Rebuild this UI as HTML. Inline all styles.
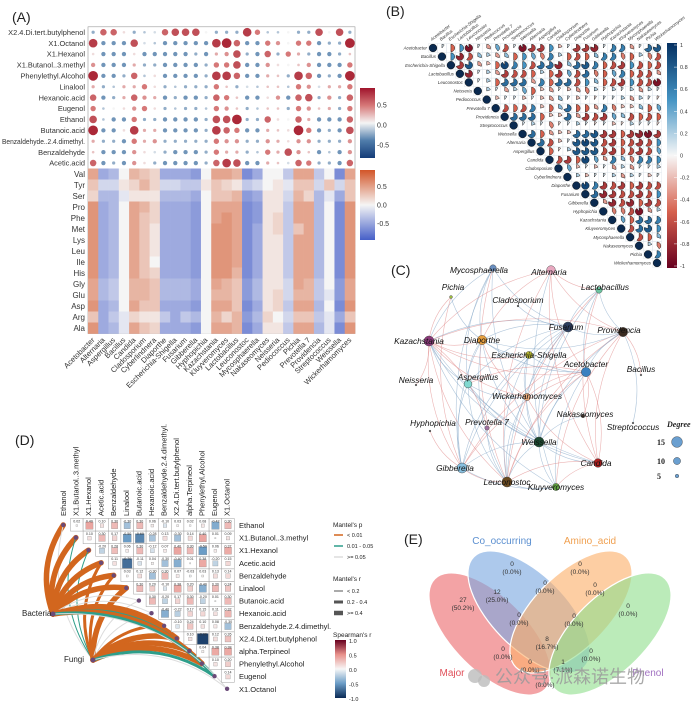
<!DOCTYPE html>
<html><head><meta charset="utf-8"><style>
html,body{margin:0;padding:0;background:#fff;}
svg{display:block;font-family:"Liberation Sans","Noto Sans CJK SC",sans-serif;}
</style></head><body>
<svg id="fig" width="695" height="707" viewBox="0 0 695 707" xmlns="http://www.w3.org/2000/svg">
<defs>
<linearGradient id="gA1" x1="0" y1="0" x2="0" y2="1"><stop offset="0" stop-color="#a0142c"/><stop offset="0.25" stop-color="#d67878"/><stop offset="0.5" stop-color="#f5f5f5"/><stop offset="0.75" stop-color="#507dab"/><stop offset="1" stop-color="#143c78"/></linearGradient>
<linearGradient id="gA2" x1="0" y1="0" x2="0" y2="1"><stop offset="0" stop-color="#d25528"/><stop offset="0.5" stop-color="#f5f5f5"/><stop offset="1" stop-color="#465fc8"/></linearGradient>
<linearGradient id="gB" x1="0" y1="0" x2="0" y2="1"><stop offset="0" stop-color="#053061"/><stop offset="0.25" stop-color="#4393c3"/><stop offset="0.5" stop-color="#f7f7f7"/><stop offset="0.75" stop-color="#d6604d"/><stop offset="1" stop-color="#67001f"/></linearGradient>
<linearGradient id="gD" x1="0" y1="0" x2="0" y2="1"><stop offset="0" stop-color="#67001f"/><stop offset="0.25" stop-color="#e8908a"/><stop offset="0.5" stop-color="#f7f7f7"/><stop offset="0.75" stop-color="#6a9cc6"/><stop offset="1" stop-color="#0a2a55"/></linearGradient>
</defs>
<g id="A"></g>
<g id="B"></g>
<g id="C"></g>
<g id="D"></g>
<g id="E"></g>
</svg>
<script>
// ---------- Panel A data ----------
const aCols = ["Acetobacter","Alternaria","Aspergillus","Bacillus","Candida","Cladosporium","Cyberlindnera","Diaporthe","Escherichia-Shigella","Fusarium","Gibberella","Hyphopichia","Kazachstania","Kluyveromyces","Lactobacillus","Leuconostoc","Mycosphaerella","Nakaseomyces","Neisseria","Pediococcus","Pichia","Prevotella 7","Providencia","Streptococcus","Weissella","Wickerhamomyces"];
const aDotRows = ["X2.4.Di.tert.butylphenol","X1.Octanol","X1.Hexanol","X1.Butanol..3.methyl","Phenylethyl.Alcohol","Linalool","Hexanoic.acid","Eugenol","Ethanol","Butanoic.acid","Benzaldehyde..2.4.dimethyl.","Benzaldehyde","Acetic.acid"];
const aDotVals = [
[-0.3,0.6,0.6,0.1,-0.3,-0.2,-0.1,0.6,0.7,0.7,0.7,0,-0.3,-0.3,-0.3,0.8,0.5,-0.2,-0.2,0,-0.3,-0.3,0.7,0,0.7,-0.3],
[0.8,-0.4,-0.4,-0.4,0.7,-0.1,-0.2,-0.4,-0.4,-0.4,-0.4,-0.4,0.8,0.9,0.6,-0.4,-0.4,0.5,0.4,0,0.5,0.5,-0.4,-0.3,-0.3,0.9],
[0.1,-0.4,-0.4,-0.4,0.1,-0.4,-0.4,-0.4,-0.4,-0.4,-0.3,-0.4,0.3,0.4,0.7,-0.3,-0.4,0.6,-0.3,0.5,0.3,-0.3,-0.4,-0.4,-0.3,0.2],
[0.4,-0.4,-0.4,-0.4,0.3,-0.3,-0.3,-0.4,-0.4,-0.4,-0.4,-0.3,0.5,0.5,0.7,-0.4,-0.4,0.4,0.1,0,0.2,0.4,-0.4,-0.4,-0.4,0.5],
[0.9,-0.4,-0.4,-0.3,0.6,-0.2,0.1,-0.4,-0.4,-0.4,-0.4,-0.3,0.8,0.8,0.6,-0.4,-0.4,0.3,0.2,-0.3,0.8,0.6,-0.4,-0.3,-0.4,0.9],
[0.3,-0.3,-0.2,0.3,0.3,0.5,0.1,-0.3,-0.2,-0.3,-0.3,-0.3,0.5,0.2,-0.3,-0.1,-0.2,0.2,0.2,-0.2,0.5,0.4,-0.1,0.3,0.3,0.5],
[0.6,-0.4,-0.3,0.3,0.6,0.4,0.3,-0.4,-0.3,-0.4,-0.4,-0.3,0.6,0.5,0.2,-0.4,-0.4,0.1,0.4,-0.4,0.6,0.7,-0.3,0.4,-0.3,0.6],
[0.5,-0.2,0,0.1,0.4,0.5,0.1,-0.3,-0.2,-0.3,-0.3,-0.2,0.5,0.4,0.2,-0.3,-0.2,0.2,0.2,-0.3,0.5,0.4,0.2,0.3,-0.3,0.5],
[0.7,-0.2,-0.4,-0.4,0.5,-0.3,-0.3,-0.4,-0.4,-0.4,-0.4,-0.3,0.7,0.7,0.9,-0.3,-0.3,0.6,0.1,0,0.6,0.3,-0.4,-0.4,-0.4,0.6],
[0.9,-0.4,-0.4,0.1,0.8,0.3,0.3,-0.4,-0.4,-0.4,-0.4,-0.3,0.8,0.6,0.5,-0.4,-0.4,0.3,0.2,0.1,0.9,0.5,-0.4,-0.3,-0.4,0.7],
[0.3,-0.3,-0.3,-0.4,0.5,0.3,0.4,-0.3,-0.3,-0.3,-0.3,-0.3,0.5,0.4,0.4,-0.3,-0.3,0.4,0.3,0.1,0.4,0.4,-0.3,-0.3,-0.3,0.4],
[0.2,-0.4,-0.4,-0.4,0.4,0.1,-0.1,-0.3,-0.4,-0.4,-0.4,-0.3,0.5,0.3,0.3,-0.3,-0.2,0.5,0.3,0.7,0.4,0.2,-0.4,-0.2,-0.4,0.4],
[0.6,-0.4,-0.3,-0.4,0.4,0.1,-0.3,-0.4,-0.4,-0.4,-0.4,-0.3,0.6,0.8,0.7,-0.4,-0.4,0.3,0.2,-0.1,0.6,0.5,-0.3,-0.3,-0.4,0.6]];
const aHeatRows = ["Val","Tyr","Ser","Pro","Phe","Met","Lys","Leu","Ile","His","Gly","Glu","Asp","Arg","Ala"];
const aHeatVals = [
[5,-5,-4,0,4,3,2,-5,-5,-5,-6,0,5,5,4,-7,-5,0,0,-3,5,5,-3,0,-7,5],
[3,-2,-2,1,2,4,2,-2,-2,-3,-3,1,3,2,1,-3,-2,0,1,-1,3,3,-2,3,-2,3],
[2,-4,-4,-1,1,1,1,-4,-4,-4,-5,0,3,3,4,-6,-5,1,1,-2,4,2,-4,-1,-5,3],
[6,-5,-4,0,5,4,2,-5,-5,-5,-6,0,5,5,5,-7,-6,1,1,-3,5,5,-4,0,-7,6],
[6,-5,-4,0,5,3,2,-5,-5,-5,-6,0,5,6,5,-7,-6,1,2,-3,5,5,-4,0,-7,6],
[6,-5,-4,0,5,3,1,-5,-5,-5,-6,0,6,6,5,-7,-5,1,2,-3,3,5,-4,0,-7,6],
[6,-5,-4,0,5,3,1,-5,-5,-5,-6,0,6,6,5,-7,-5,1,1,-3,5,5,-4,0,-7,6],
[6,-5,-4,0,5,3,1,-5,-5,-5,-6,0,6,6,5,-7,-5,1,1,-3,5,5,-4,0,-7,6],
[6,-5,-4,0,5,3,0,-5,-5,-5,-6,0,6,6,5,-7,-5,1,1,-3,5,5,-4,0,-7,6],
[6,-5,-4,0,5,3,2,-5,-5,-5,-6,0,6,6,4,-7,-5,1,1,-3,5,5,-4,0,-7,6],
[5,-4,-3,0,4,4,3,-4,-4,-4,-5,0,5,4,3,-6,-4,1,1,-2,5,4,-3,0,-6,5],
[5,-4,-3,0,4,4,3,-4,-4,-4,-5,0,4,4,3,-6,-4,1,2,-2,4,4,-3,-1,-6,5],
[6,-5,-4,0,5,3,3,-5,-5,-5,-6,0,5,5,3,-7,-5,1,2,-3,5,5,-4,0,-7,6],
[3,-5,-3,-1,2,1,1,-3,-5,-3,-4,0,4,2,4,-6,-4,2,0,-2,3,3,-3,-1,-5,3],
[6,-5,-4,-1,5,3,2,-5,-5,-5,-6,0,5,5,4,-7,-5,1,1,-3,5,5,-4,-1,-7,6]];
const aBarTicks = ["0.5","0.0","-0.5"];
const aBarTickVals = [0.5,0,-0.5];

// ---------- Panel B data ----------
const bTaxa = ["Acetobacter","Bacillus","Escherichia-Shigella","Lactobacillus","Leuconostoc","Neisseria","Pediococcus","Prevotella 7","Providencia","Streptococcus","Weissella","Alternaria","Aspergillus","Candida","Cladosporium","Cyberlindnera","Diaporthe","Fusarium","Gibberella","Hyphopichia","Kazachstania","Kluyveromyces","Mycosphaerella","Nakaseomyces","Pichia","Wickerhamomyces"];
const bVals = [
[1,-5,5,-9,1,-3,4,-6,1,-9,-7,-7,5,-2,1,-7,-7,-8,1,6,6,-3,1,7,8],
[5,-8,-6,3,2,-3,3,-5,5,4,-4,6,2,-5,-6,-5,3,6,6,-4,-5,2,-4,-6],
[-7,8,-3,-2,-5,9,6,5,-6,7,7,-8,3,7,8,6,-5,-6,-7,5,-6,-5,-6],
[-8,1,2,-3,-7,-6,-6,-5,2,-5,-7,4,-6,7,-4,-5,4,6,-5,-6,-6,-3],
[1,2,-5,7,7,7,-3,6,-5,7,7,-6,5,3,-5,-6,-7,5,-6,-6,-9],
[2,1,-3,2,4,-5,-2,-3,1,-2,-3,-4,2,-1,2,1,2,-3,2,1],
[-2,1,1,-2,1,-2,-3,3,1,-2,1,-1,1,1,2,-3,2,1,-1],
[-6,-5,-6,6,-2,-5,3,7,-5,-5,-3,6,-4,-2,-2,3,-5,4],
[7,7,7,-5,-2,-2,7,-3,-7,-6,-7,4,3,-6,-5,-6,-5],
[1,2,1,-4,-1,1,2,1,-1,1,-2,-1,2,1,1,-1],
[7,-5,-3,-2,-2,7,7,8,-7,-7,-5,-7,-8,-9,-7],
[7,-6,-2,1,8,9,8,-6,-7,-5,-6,-7,-6,5],
[-5,-1,2,8,8,8,-6,-7,-5,-6,-7,-6,4],
[-6,-7,-5,9,4,-3,6,3,-4,6,6,5],
[4,-2,1,-2,1,-3,2,-3,1,1,2],
[2,-2,1,1,2,-3,2,1,-2,1],
[9,6,-7,-6,-7,-5,-7,-6,-6],
[7,-8,-7,-6,-6,-7,-6,5],
[-3,-8,-6,-8,-5,-7,-6],
[-4,-4,-6,-9,-3,2],
[4,-5,7,7,6],
[-6,7,8,5],
[-6,-5,3],
[2,-4],
[6],
[]];
const bTicks = ["1","0.8","0.6","0.4","0.2","0","-0.2","-0.4","-0.6","-0.8","-1"];

// ---------- Panel C data ----------
const cNodes = ["Mycosphaerella","Alternaria","Lactobacillus","Pichia","Cladosporium","Fusarium","Providencia","Kazachstania","Diaporthe","Escherichia-Shigella","Acetobacter","Bacillus","Neisseria","Aspergillus","Wickerhamomyces","Nakaseomyces","Hyphopichia","Prevotella 7","Streptococcus","Weissella","Candida","Gibberella","Leuconostoc","Kluyveromyces"];
const cDegree = [9,12,9,4,2,14,13,14,13,10,13,1,1,11,10,5,1,6,1,14,12,14,14,10];
const cEdges = [[0,5,"b"],[0,8,"b"],[0,13,"b"],[0,19,"b"],[0,21,"b"],[0,22,"r"],[0,7,"b"],[1,7,"r"],[1,8,"r"],[1,10,"r"],[1,20,"r"],[1,22,"r"],[1,2,"r"],[1,23,"b"],[1,6,"r"],[2,5,"b"],[2,10,"b"],[2,20,"r"],[2,22,"r"],[2,19,"b"],[3,7,"r"],[3,8,"b"],[3,21,"r"],[5,7,"b"],[5,8,"b"],[5,9,"b"],[5,13,"b"],[5,19,"b"],[5,21,"b"],[5,22,"b"],[5,6,"b"],[5,14,"b"],[6,10,"b"],[6,20,"r"],[6,22,"r"],[6,23,"r"],[6,21,"r"],[6,7,"r"],[6,19,"b"],[7,8,"r"],[7,9,"r"],[7,10,"r"],[7,13,"b"],[7,14,"r"],[7,19,"b"],[7,21,"r"],[7,22,"r"],[7,23,"b"],[7,20,"b"],[8,9,"b"],[8,10,"b"],[8,13,"b"],[8,14,"r"],[8,19,"b"],[8,22,"b"],[8,21,"b"],[8,6,"b"],[9,10,"b"],[9,14,"b"],[9,19,"b"],[9,22,"b"],[9,21,"b"],[10,13,"r"],[10,14,"r"],[10,19,"b"],[10,22,"r"],[10,21,"r"],[10,23,"b"],[13,14,"b"],[13,19,"b"],[13,20,"b"],[13,21,"b"],[13,22,"b"],[14,19,"b"],[14,20,"r"],[14,22,"b"],[15,10,"r"],[15,19,"b"],[17,22,"b"],[17,7,"r"],[19,20,"b"],[19,21,"b"],[19,22,"b"],[19,23,"b"],[20,22,"r"],[20,23,"r"],[21,22,"r"],[22,23,"b"],[12,7,"r"],[16,21,"r"],[18,6,"b"],[11,6,"r"],[4,5,"b"],[2,6,"b"],[20,10,"r"],[21,23,"b"]];
const cLegendDeg = [15,10,5];

// ---------- Panel D data ----------
const dVars = ["Ethanol","X1.Butanol..3.methyl","X1.Hexanol","Acetic.acid","Benzaldehyde","Linalool","Butanoic.acid","Hexanoic.acid","Benzaldehyde.2.4.dimethyl.","X2.4.Di.tert.butylphenol","alpha.Terpineol","Phenylethyl.Alcohol","Eugenol","X1.Octanol"];
const dVals = [
[0.02,0.40,0.10,0.30,-0.30,0.30,0.06,-0.10,0.03,0.02,0.08,-0.42,0.30],
[0.10,0.30,0.17,-0.50,-0.60,-0.28,0.13,-0.30,0.14,0.40,0.01,0.09],
[-0.20,0.28,0.06,0.30,-0.12,0.07,0.40,0.30,-0.50,0.06,0.37],
[0.11,-0.70,-0.11,0.04,-0.30,-0.40,0.01,0.38,-0.20,0.15],
[0.03,0.12,-0.30,0.30,0.07,-0.03,0.03,0.13,0.14],
[0.30,0.20,-0.10,0.38,0.20,-0.40,0.30,0.24],
[0.30,-0.20,0.17,0.30,-0.20,0.01,0.30],
[-0.40,-0.22,0.17,0.15,0.11,0.32],
[-0.10,0.24,0.10,0.08,-0.30],
[0.10,-0.90,0.12,0.26],
[0.04,0.38,0.38],
[0.10,0.20],
[0.14],
[]];
const dBacP = [0,0,0,0,0,0,2,2,0,0,1,0,1,2];
const dBacR = [2,2,2,2,2,2,0,0,1,2,1,2,1,0];
const dFunP = [2,1,1,0,0,0,2,2,0,0,0,0,1,2];
const dFunR = [0,0,0,1,1,2,0,0,1,2,2,2,1,0];
const dBarTicks = ["1.0","0.5","0.0","-0.5","-1.0"];

// ---------- Panel E data ----------
const eSets = ["Major","Co_occurring","Amino_acid","Phenol"];
const eCounts = [27,12,0,0,0,0,0,0,0,8,0,0,0,1,0];
const ePct = ["50.2%","25.0%","0.0%","0.0%","0.0%","0.0%","0.0%","0.0%","0.0%","16.7%","0.0%","0.0%","0.0%","7.1%","0.0%"];

// ---------- helpers ----------
const NS="http://www.w3.org/2000/svg";
function mk(tag,attrs,parent){const e=document.createElementNS(NS,tag);for(const k in attrs)e.setAttribute(k,attrs[k]);parent.appendChild(e);return e;}
function txt(parent,x,y,s,size,extra){const t=mk("text",Object.assign({x:x,y:y,"font-size":size,fill:"#222"},extra||{}),parent);t.textContent=s;return t;}
function interp(stops,v){v=Math.max(stops[0][0],Math.min(stops[stops.length-1][0],v));for(let i=0;i<stops.length-1;i++){const a=stops[i],b=stops[i+1];if(v>=a[0]&&v<=b[0]){const t=(v-a[0])/(b[0]-a[0]||1);return "rgb("+[1,2,3].map(k=>Math.round(a[k]+(b[k]-a[k])*t)).join(",")+")";}}return "#fff";}
const cmDot=[[-1,20,60,120],[-0.5,80,125,170],[0,245,245,245],[0.5,214,120,120],[1,160,20,40]];
const cmHeat=[[-1,70,95,200],[0,245,245,245],[1,210,85,40]];
const cmB=[[-1,103,0,31],[-0.5,214,96,77],[0,247,247,247],[0.5,67,147,195],[1,5,48,97]];
const cmD=[[-1,10,42,85],[-0.5,106,156,198],[0,247,247,247],[0.5,232,144,138],[1,103,0,31]];

// ---------- Panel A ----------
(function(){
const g=document.getElementById("A");
const t0=txt(g,12,22,"(A)",14);

const L=88,R=355,cw=(R-L)/aCols.length;
const dTop=26.8,dh=10.9, hTop=168.5,hh=11;
const xC=i=>L+cw*(i+0.5);
const frame=mk("rect",{x:L,y:dTop,width:R-L,height:hTop+hh*aHeatRows.length-dTop,fill:"none",stroke:"#999","stroke-width":0.6},g);

aDotRows.forEach((rn,r)=>{
  const cy=dTop+dh*(r+0.5);
  const ex={"text-anchor":"end",fill:"#333"};
  if(rn.length>24){ex.textLength=83;ex.lengthAdjust="spacingAndGlyphs";}
  const lb=txt(g,L-3,cy+2.6,rn,7.4,ex);
  
  aDotVals[r].forEach((v,c)=>{
    const rad=Math.max(1.3,5.4*Math.abs(v));
    const d=mk("circle",{cx:xC(c),cy:cy,r:rad,fill:interp(cmDot,v)},g);
    
  });
});
aHeatRows.forEach((rn,r)=>{
  const y=hTop+hh*r;
  const lb=txt(g,L-3,y+hh/2+3,rn,8,{"text-anchor":"end",fill:"#333"});
  
  aHeatVals[r].forEach((v,c)=>{
    const cell=mk("rect",{x:L+cw*c,y:y,width:cw+0.3,height:hh+0.3,fill:interp(cmHeat,v/10)},g);
    
  });
});
const bottom=hTop+hh*aHeatRows.length;
aCols.forEach((cn,c)=>{
  const x=xC(c)+2,y=bottom+7;
  const lb=txt(g,x,y,cn,7.5,{"text-anchor":"end",transform:"rotate(-45 "+x+" "+y+")",fill:"#333"});
  
});
[[88,158,"gA1",125,40],[170,240,"gA2",205,37]].forEach((b,bi)=>{
  const bar=mk("rect",{x:360,y:b[0],width:15,height:b[1]-b[0],fill:"url(#"+b[2]+")"},g);
  
  aBarTicks.forEach((tk,i)=>{
    const yy=b[3]-aBarTickVals[i]*b[4];
    const t=txt(g,377,yy+2.5,tk,7,{fill:"#333"});
    
  });
});
})();

// ---------- Panel B ----------
(function(){
const g=document.getElementById("B");
const t0=txt(g,386,16,"(B)",14);

const x0=433,y0=48,sx=8.96,sy=8.6,n=bTaxa.length;
const X=j=>x0+sx*j,Y=i=>y0+sy*i;
for(let i=0;i<n;i++){
  for(let j=i;j<n;j++){
    const c=mk("rect",{x:X(j)-sx/2,y:Y(i)-sy/2,width:sx,height:sy,fill:"none",stroke:"#dde4ea","stroke-width":0.4},g);
    
  }
  const dg=mk("circle",{cx:X(i),cy:Y(i),r:3.9,fill:"#0a2a50",stroke:"#000","stroke-width":0.4},g);
  
  const row=bVals[i];const start=n-row.length;
  row.forEach((v10,k)=>{
    const j=start+k;const v=v10/10;const cx=X(j),cy=Y(i),r=3.8;
    const f=Math.min(0.999,Math.abs(v));
    const a=f*2*Math.PI;const ex=cx+r*Math.sin(a),ey=cy-r*Math.cos(a);
    const d="M"+cx+","+cy+" L"+cx+","+(cy-r)+" A"+r+","+r+" 0 "+(f>0.5?1:0)+" 1 "+ex+","+ey+" Z";
    const p=mk("path",{d:d,fill:interp(cmB,v),stroke:"#111","stroke-width":0.45},g);
    
  });
  const lb=txt(g,X(i)-6,Y(i)+1.6,bTaxa[i],4.4,{"text-anchor":"end","font-style":"italic",fill:"#333"});
  
  const cx=X(i)-1,cy=y0-7;
  const cl=txt(g,cx,cy,bTaxa[i],4.4,{"font-style":"italic",fill:"#333",transform:"rotate(-38 "+cx+" "+cy+")"});
  
}
const bar=mk("rect",{x:667,y:43,width:10,height:225,fill:"url(#gB)"},g);

bTicks.forEach((tk,i)=>{
  const y=45+i*(266-45)/(bTicks.length-1);
  const l=mk("line",{x1:674,x2:677,y1:y,y2:y,stroke:"#fff","stroke-width":0.5},g);
  
  const t=txt(g,680,y+2,tk,5.5,{fill:"#333"});
  
});
})();

// ---------- Panel C ----------
(function(){
const g=document.getElementById("C");
const t0=txt(g,391,275,"(C)",14);

const pos=[[493,268],[551,270],[599,290],[451,297],[518,306],[568,327],[623,332],[429,341],[482,340],[529,355],[586,372],[641,375],[416,385],[468,384],[527,397],[583,416],[430,431],[487,428],[633,423],[539,442],[598,463],[462,468],[507,482],[556,487]];
const col=["#6a8fc0","#e8a8c0","#6cc4a0","#a0c040","#555","#2d3e5e","#3a2a20","#8b3a7a","#e8a040","#b8b830","#3a80c0","#777","#666","#80d8d0","#f0b080","#4a3a30","#555","#a070a0","#666","#1a4a30","#b02020","#88c0e0","#6a4a20","#60a040"];
const lab=[[-14,5],[-2,5],[6,0],[2,-7],[0,-3],[-2,3],[-4,1],[-10,3],[0,3],[0,3],[0,-5],[0,-3],[0,-2],[10,-4],[0,2],[2,1],[3,-5],[0,-3],[0,7],[0,3],[-2,3],[-7,3],[0,3],[0,3]];
cEdges.forEach(e=>{
  const a=pos[e[0]],b=pos[e[1]];const mx=(a[0]+b[0])/2,my=(a[1]+b[1])/2;
  const dx=b[0]-a[0],dy=b[1]-a[1];const cx=mx-dy*0.18,cy=my+dx*0.18;
  const p=mk("path",{d:"M"+a[0]+","+a[1]+" Q"+cx+","+cy+" "+b[0]+","+b[1],fill:"none",stroke:e[2]==="r"?"#e08a8a":"#86a8c8","stroke-width":0.6,"stroke-opacity":0.65},g);
  
});
cNodes.forEach((nm,i)=>{
  const r=Math.max(0.9,cDegree[i]*0.36);
  const c=mk("circle",{cx:pos[i][0],cy:pos[i][1],r:r,fill:col[i],stroke:"#333","stroke-width":0.4},g);
  
  const t=txt(g,pos[i][0]+lab[i][0],pos[i][1]+lab[i][1],nm,8.3,{"text-anchor":"middle","font-style":"italic",fill:"#111"});
  
});
const lt=txt(g,667,427,"Degree",8,{"font-family":"Liberation Serif, serif","font-style":"italic","font-weight":"bold"});

cLegendDeg.forEach((d,i)=>{
  const y=[442,461,476][i];
  const t=txt(g,657,y+3,String(d),8,{"font-family":"Liberation Serif, serif","font-weight":"bold"});
  
  const c=mk("circle",{cx:677,cy:y,r:d*0.36,fill:"#6a9fd0",stroke:"#333","stroke-width":0.4},g);
  
});
})();

// ---------- Panel D ----------
(function(){
const g=document.getElementById("D");
const t0=txt(g,15,445,"(D)",14);

const s=12.6,cx0=70.5,cy0=518.5,dx0=63.3,dy0=525;
const bac=[53,614],fun=[93,660];
const pc=["#d2661e","#2e9e8a","#dcdcdc"],rw=[1,3,5.5];
function link(src,i,p,r){
  const tx=dx0+s*i,ty=dy0+s*i;
  const mx=(src[0]+tx)/2,my=(src[1]+ty)/2;const ddx=tx-src[0],ddy=ty-src[1];
  const cx=mx+ddy*0.25,cy=my-ddx*0.25;
  const l=mk("path",{d:"M"+src[0]+","+src[1]+" Q"+cx+","+cy+" "+tx+","+ty,fill:"none",stroke:pc[p],"stroke-width":rw[r],"stroke-linecap":"round"},g);
  
}
dVars.forEach((v,i)=>{link(bac,i,dBacP[i],dBacR[i]);link(fun,i,dFunP[i],dFunR[i]);});
dVars.forEach((v,i)=>{
  const row=dVals[i];
  row.forEach((val,k)=>{
    const x=cx0+s*(i+k),y=cy0+s*i;
    const o=mk("rect",{x:x,y:y,width:s,height:s,fill:"#fff",stroke:"#a0a0a0","stroke-width":0.5},g);
    
    const w=s*0.92*Math.sqrt(Math.abs(val));
    const q=mk("rect",{x:x+(s-w)/2,y:y+(s-w)/2+0.8,width:w,height:w,fill:interp(cmD,val),stroke:"#888","stroke-width":0.3},g);
    
    const t=txt(g,x+s/2,y+3.8,val.toFixed(2),3.6,{"text-anchor":"middle",fill:"#333"});
    
  });
  const d=mk("circle",{cx:dx0+s*i,cy:dy0+s*i,r:2.2,fill:"#6a4a78"},g);
  
  const rl=txt(g,239,dy0+s*i+3,v,7.5,{fill:"#222"});
  
  const x=dx0+s*i+2.5,y=516;
  const cl=txt(g,x,y,v,7.5,{fill:"#222",transform:"rotate(-90 "+x+" "+y+")"});
  
});
[[bac,"Bacteria",22,616],[fun,"Fungi",64,662]].forEach(b=>{
  const c=mk("circle",{cx:b[0][0],cy:b[0][1],r:2.5,fill:"#6a4a78"},g);
  
  const t=txt(g,b[2],b[3],b[1],8,{fill:"#222"});
  
});
const L1=txt(g,333,527,"Mantel's p",6.5);
["< 0.01","0.01 - 0.05",">= 0.05"].forEach((s2,i)=>{
  const y=535+i*11;
  const l=mk("line",{x1:334,x2:343,y1:y,y2:y,stroke:pc[i],"stroke-width":1.5},g);
  const t=txt(g,347,y+2,s2,5.5);
});
const L2=txt(g,333,581,"Mantel's r",6.5);
["< 0.2","0.2 - 0.4",">= 0.4"].forEach((s2,i)=>{
  const y=591+i*11;
  const l=mk("line",{x1:334,x2:343,y1:y,y2:y,stroke:"#555","stroke-width":[1,3,4.5][i]},g);
  const t=txt(g,347,y+2,s2,5.5);
});
const L3=txt(g,333,637,"Spearman's r",6.5);
const bar=mk("rect",{x:335,y:640,width:11,height:58,fill:"url(#gD)"},g);
dBarTicks.forEach((tk,i)=>{const t=txt(g,349,643+i*14.5,tk,5.5);});
})();

// ---------- Panel E ----------
(function(){
const g=document.getElementById("E");
const t0=txt(g,404,544,"(E)",14);

const ell=[[490,634,45,"#ec6a6e"],[529,612,45,"#7aa8e0"],[571,612,-45,"#fbb06a"],[610,634,-45,"#92de8e"]];
ell.forEach((e,i)=>{
  const el=mk("ellipse",{cx:e[0],cy:e[1],rx:78,ry:37,fill:e[3],"fill-opacity":0.62,stroke:"#fff","stroke-width":1.2,transform:"rotate("+e[2]+" "+e[0]+" "+e[1]+")"},g);
  
});
const lp=[[463,602],[497,594],[512,566],[580,566],[545,585],[595,587],[628,608],[519,617],[574,618],[547,641],[503,651],[591,653],[530,664],[563,664],[545,679]];
eCounts.forEach((c,i)=>{
  const t=txt(g,lp[i][0],lp[i][1],String(c),6.5,{"text-anchor":"middle",fill:"#333"});
  
  const p=txt(g,lp[i][0],lp[i][1]+8,"("+ePct[i]+")",6.5,{"text-anchor":"middle",fill:"#333"});
  
});
[["Co_occurring",502,544,"#5b8fd0"],["Amino_acid",590,544,"#f0a050"],["Major",452,676,"#e0505a"],["Phenol",648,676,"#a070c0"]].forEach((s2,i)=>{
  const t=txt(g,s2[1],s2[2],s2[0],10,{"text-anchor":"middle",fill:s2[3]});
  
});
const w1=mk("circle",{cx:475,cy:676,r:7,fill:"#bbb","fill-opacity":0.8},g);
const w2=mk("circle",{cx:484,cy:681,r:6,fill:"#bbb","fill-opacity":0.8},g);
const wm=txt(g,495,683,"公众号·派森诺生物",18,{fill:"#9a9a9a","fill-opacity":0.85});

})();
</script>
</body></html>
